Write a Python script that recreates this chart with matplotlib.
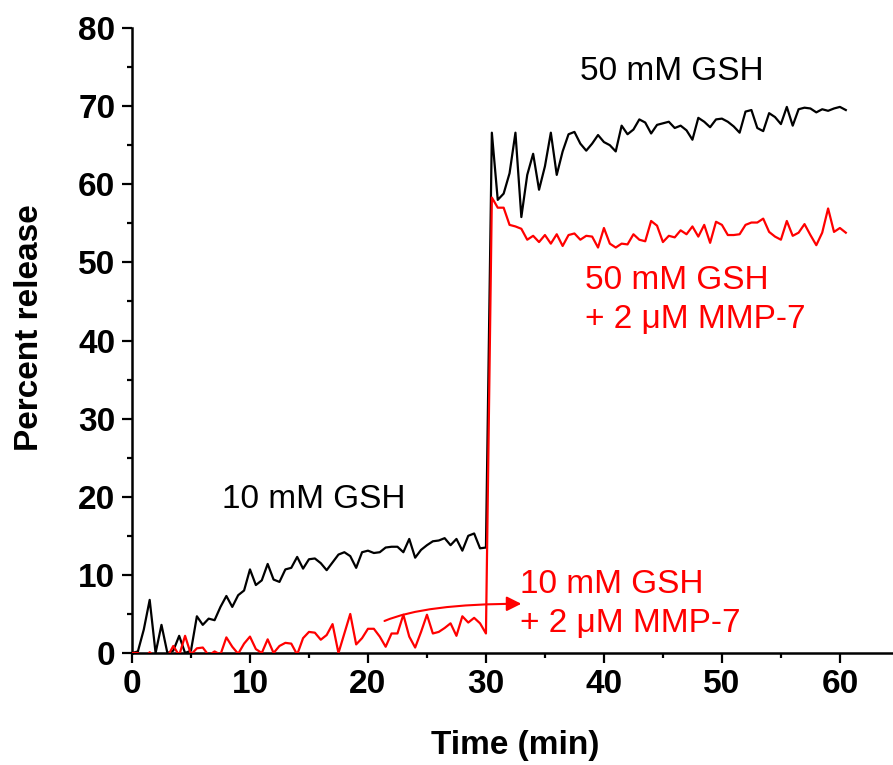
import numpy as np
import matplotlib
matplotlib.use("Agg")
import matplotlib.pyplot as plt
from matplotlib.ticker import MultipleLocator

plt.rcParams['font.family'] = ['Liberation Sans', 'DejaVu Sans']

# sampling grid (min)
time_min = np.arange(0, 60.5 + 0.25, 0.5)

# percent release, 10 mM GSH (0-30 min) then 50 mM GSH (30.5-60.5 min)
gsh = [
    0.0, 0.2, 3.0, 6.8, 0.0, 3.6, 0.0, 0.3, 2.2, 0.0, 0.3,
    4.7, 3.6, 4.4, 4.2, 5.9, 7.3, 5.9, 7.4, 8.0, 10.7,
    8.7, 9.3, 11.4, 9.4, 9.1, 10.7, 10.9, 12.3, 10.8, 12.0,
    12.1, 11.5, 10.6, 11.6, 12.6, 12.9, 12.4, 10.9, 12.9, 13.1,
    12.8, 12.9, 13.5, 13.6, 13.6, 12.9, 14.6, 12.2, 13.2, 13.8,
    14.3, 14.4, 14.7, 13.8, 14.6, 13.1, 15.0, 15.3, 13.4, 13.5,
    66.6, 58.0, 58.8, 61.4, 66.6, 55.8, 61.2, 63.9, 59.3, 62.3,
    66.6, 61.2, 64.2, 66.4, 66.7, 65.2, 64.3, 65.2, 66.3, 65.4,
    65.0, 64.2, 67.5, 66.4, 67.0, 68.3, 67.9, 66.5, 67.6, 67.8,
    68.0, 67.2, 67.5, 66.9, 65.7, 68.5, 68.0, 67.3, 68.3, 68.4,
    68.0, 67.4, 66.6, 69.3, 69.5, 67.2, 66.8, 69.1, 68.6, 67.7,
    69.9, 67.5, 69.6, 69.8, 69.7, 69.2, 69.6, 69.4, 69.7, 69.9,
    69.5,
]

# same, with 2 uM MMP-7
gsh_mmp7 = [
    0.0, 0.0, -0.8, 0.1, -0.6, -1.0, -0.5, 0.9, -0.3, 2.2, -0.2,
    0.6, 0.7, -0.3, 0.2, -0.2, 2.0, 0.8, -0.1, 1.2, 2.1,
    0.5, 0.0, 1.75, 0.0, 0.9, 1.3, 1.2, -0.2, 1.9, 2.7,
    2.6, 1.7, 2.3, 3.7, 0.0, 2.5, 5.0, 1.1, 1.9, 3.1,
    3.1, 2.1, 0.8, 2.5, 2.5, 4.9, 2.1, 0.7, 2.7, 4.9,
    2.5, 2.7, 3.2, 3.8, 2.2, 4.7, 3.9, 4.5, 3.8, 2.5,
    58.3, 57.0, 57.0, 54.8, 54.6, 54.3, 52.9, 53.4, 52.6, 53.5,
    52.4, 53.6, 52.1, 53.5, 53.7, 52.9, 53.4, 53.3, 51.9, 54.4,
    52.4, 51.9, 52.4, 52.3, 53.6, 52.9, 52.7, 55.3, 54.7, 52.6,
    53.4, 53.2, 54.1, 53.6, 54.6, 53.3, 54.8, 52.5, 55.2, 54.8,
    53.5, 53.5, 53.6, 54.8, 55.1, 55.1, 55.6, 53.9, 53.3, 52.9,
    55.3, 53.4, 53.8, 54.9, 53.5, 52.2, 53.8, 56.9, 53.9, 54.4,
    53.8,
]

fig = plt.figure(figsize=(8.93, 7.65), dpi=100)
ax = fig.add_axes([0.1478, 0.1464, 0.8522, 0.817])

ax.plot(time_min, gsh, color='black', lw=1.6, zorder=3)
ax.plot(time_min, gsh_mmp7, color='#ff0000', lw=1.6, zorder=4)

ax.set_xlim(0, 64.5)
ax.set_ylim(0, 80)
ax.xaxis.set_major_locator(MultipleLocator(10))
ax.xaxis.set_minor_locator(MultipleLocator(5))
ax.yaxis.set_major_locator(MultipleLocator(10))
ax.yaxis.set_minor_locator(MultipleLocator(5))

for side in ['top', 'right']:
    ax.spines[side].set_visible(False)
for side in ['left', 'bottom']:
    ax.spines[side].set_linewidth(1.8)

ax.tick_params(which='major', length=7, width=1.6, direction='out')
ax.tick_params(which='minor', length=3.5, width=1.6, direction='out')
ax.tick_params(axis='y', which='major', pad=5)
ax.tick_params(axis='x', which='major', pad=4.5)
for lab in ax.get_xticklabels() + ax.get_yticklabels():
    lab.set_fontsize(24)
    lab.set_fontweight('bold')

ax.set_xlabel('Time (min)', fontsize=24, fontweight='bold')
ax.set_ylabel('Percent release', fontsize=24, fontweight='bold')
ax.xaxis.set_label_coords(0.503, -0.123)
ax.yaxis.set_label_coords(-0.114, 0.52)

ax.text(38.0, 74.4, '50 mM GSH', fontsize=24, color='black', ha='left', va='center')
ax.text(7.6, 19.6, '10 mM GSH', fontsize=24, color='black', ha='left', va='center')
ax.text(38.4, 45.2, '50 mM GSH\n+ 2 \u03bcM MMP-7', fontsize=24, color='#ff0000',
        ha='left', va='center', linespacing=1.35)
ax.text(32.9, 6.3, '10 mM GSH\n+ 2 \u03bcM MMP-7', fontsize=24, color='#ff0000',
        ha='left', va='center', linespacing=1.35)

ax.annotate('', xy=(33.0, 6.3), xytext=(21.4, 4.1),
            arrowprops=dict(arrowstyle='-|>', color='#ff0000', lw=1.5,
                            mutation_scale=22, shrinkA=0, shrinkB=0,
                            connectionstyle='angle3,angleA=23,angleB=0'))

fig.savefig('out.png', dpi=100)
